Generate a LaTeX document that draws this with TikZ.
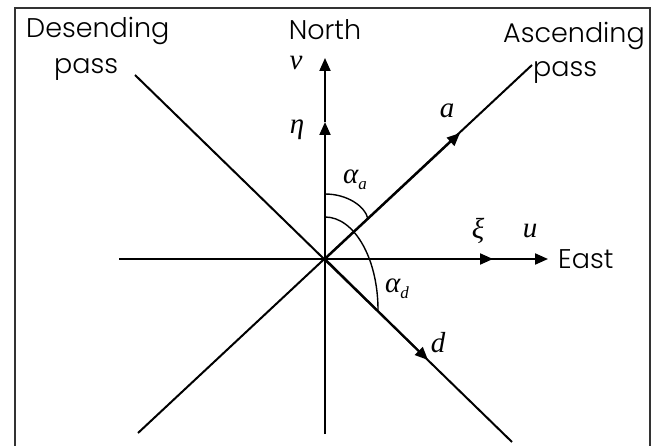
\documentclass[tikz,border=0pt]{standalone}
\usepackage{fontspec}
\setmainfont{Poppins}[UprightFont=* Light]
\newfontfamily\tmfont{Liberation Serif}
\usetikzlibrary{arrows.meta}
\tikzset{
  axisline/.style={line width=2pt, black},
  arr/.style={line width=2pt, -{Triangle[length=13pt,width=11pt]}},
  lbl/.style={font=\fontsize{27}{30}\selectfont, inner sep=0pt},
  sym/.style={font=\fontsize{29}{32}\selectfont\tmfont\itshape, inner sep=0pt},
  arcline/.style={line width=1.4pt},
  frameline/.style={line width=1.2pt, black!80},
}
\newcommand{\subsym}[2]{#1\raisebox{-6pt}{\fontsize{17}{17}\selectfont #2}}
\begin{document}
\begin{tikzpicture}[x=1pt,y=-1pt]
\useasboundingbox (0,0) rectangle (655,446);
% frame
\coordinate (F1) at (15,470);
\coordinate (F2) at (15,8);
\coordinate (F3) at (650,8);
\coordinate (F4) at (650,470);
\draw[frameline] (F1) -- (F2) -- (F3) -- (F4);
% coordinates
\coordinate (O) at (325,259);
\coordinate (H1) at (119,259);
\coordinate (H2) at (548,259);
\coordinate (xiTip) at (493,259);
\coordinate (V1) at (325,434);
\coordinate (V2) at (325,58);
\coordinate (etaTip) at (325,122);
\coordinate (A1) at (138,433);
\coordinate (A2) at (532,65);
\coordinate (aTip) at (460,133);
\coordinate (D1) at (135,75);
\coordinate (D2) at (512,442);
\coordinate (dTip) at (428,360);
% lines
\draw[axisline] (H1) -- (xiTip);
\draw[arr] (O) -- (xiTip);
\draw[arr] (xiTip) -- (H2);
\draw[axisline] (V1) -- (O);
\draw[arr] (O) -- (etaTip);
\draw[arr] (etaTip) -- (V2);
\draw[axisline] (A1) -- (A2);
\draw[arr] (O) -- (aTip);
\draw[axisline] (D1) -- (D2);
\draw[arr] (O) -- (dTip);
% angle arcs
\coordinate (aa1) at (325,194);
\coordinate (aa2) at (368,219);
\draw[arcline] (aa1) .. controls (347,194) and (365,206) .. (aa2);
\coordinate (ad1) at (325,217);
\coordinate (ad2) at (378,310);
\draw[arcline] (ad1) .. controls (354,217) and (378,258) .. (ad2);
% text labels
\node[lbl, anchor=base west] (desc) at (26,38) {Desending};
\node[lbl, anchor=base west] (descp) at (54,74) {pass};
\node[lbl, anchor=base] (north) at (325,40) {North};
\node[lbl, anchor=base west] (asc) at (503,43) {Ascending};
\node[lbl, anchor=base west] (ascp) at (533,77) {pass};
\node[lbl, anchor=base west] (east) at (558,268) {East};
% symbols
\node[sym] (v) at (296,63) {v};
\node[sym] (eta) at (297,130) {η};
\node[sym] (a) at (447,111) {a};
\node[sym] (alphaa) at (355,180) {\subsym{α}{a}};
\node[sym] (xi) at (478,231) {ξ};
\node[sym] (u) at (530,231) {u};
\node[sym] (alphad) at (397,289) {\subsym{α}{d}};
\node[sym] (d) at (438,343) {d};
\end{tikzpicture}
\end{document}
